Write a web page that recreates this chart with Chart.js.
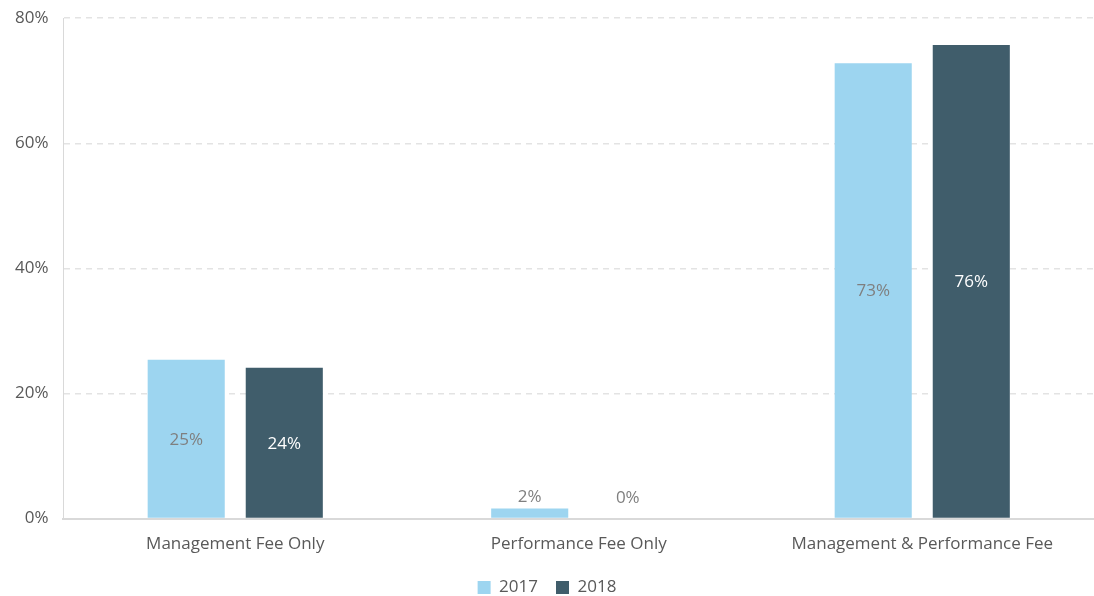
<!DOCTYPE html>
<html>
<head>
<meta charset="utf-8">
<script src="https://cdn.jsdelivr.net/npm/chart.js@4/dist/chart.umd.min.js"></script>
<style>
  html, body { margin: 0; padding: 0; background: #fff; overflow: hidden; }
  #wrap { width: 1094px; height: 613px; position: relative; top: -7px; }
</style>
</head>
<body>
<div id="wrap"><canvas id="feeChart"></canvas></div>
<script>
// data
const categories = ['Management Fee Only', 'Performance Fee Only', 'Management & Performance Fee'];
const values2017 = [25.4, 1.6, 72.8];
const values2018 = [24.1, 0, 75.7];
const yTicks = [0, 20, 40, 60, 80];

const FONT = "'Open Sans', sans-serif";

// draw the % labels: inside the middle of tall bars, above small ones
const barLabels = {
    id: 'barLabels',
    afterDatasetsDraw(chart) {
        const ctx = chart.ctx;
        ctx.save();
        ctx.font = '17px ' + FONT;
        ctx.textAlign = 'center';
        ctx.textBaseline = 'middle';
        chart.data.datasets.forEach((ds, i) => {
            const meta = chart.getDatasetMeta(i);
            meta.data.forEach((bar, j) => {
                const v = ds.data[j];
                const txt = Math.round(v) + '%';
                if (v < 5) {
                    ctx.fillStyle = '#7f7f7f';
                    ctx.fillText(txt, bar.x, Math.min(bar.y - 11, bar.base - 20));
                } else {
                    ctx.fillStyle = ds.labelColor;
                    ctx.fillText(txt, bar.x, (bar.y + bar.base) / 2 + 1);
                }
            });
        });
        ctx.restore();
    }
};

new Chart(document.getElementById('feeChart'), {
    type: 'bar',
    data: {
        labels: categories,
        datasets: [
            {
                label: '2017',
                data: values2017,
                backgroundColor: '#9dd5f0',
                labelColor: '#7f7f7f',
                categoryPercentage: 0.571,
                barPercentage: 0.786
            },
            {
                label: '2018',
                data: values2018,
                backgroundColor: '#405d6b',
                labelColor: '#ffffff',
                categoryPercentage: 0.571,
                barPercentage: 0.786
            }
        ]
    },
    options: {
        responsive: true,
        maintainAspectRatio: false,
        animation: false,
        layout: { padding: { left: 0, right: 0, top: 0, bottom: 0 } },
        plugins: {
            tooltip: { enabled: false },
            legend: {
                position: 'bottom',
                labels: {
                    font: { family: FONT, size: 17 },
                    color: '#595959',
                    boxWidth: 13,
                    boxHeight: 13,
                    padding: 18
                }
            }
        },
        scales: {
            x: {
                grid: { display: false },
                border: { color: '#d9d9d9', width: 2 },
                ticks: { font: { family: FONT, size: 17 }, color: '#595959', padding: 7 }
            },
            y: {
                min: 0,
                max: 80,
                afterBuildTicks: (axis) => { axis.ticks = yTicks.map(v => ({ value: v })); },
                grid: { color: '#e3e3e3', lineWidth: 1.5, drawTicks: false },
                border: { color: '#d9d9d9', dash: [6, 5], display: true },
                ticks: {
                    font: { family: FONT, size: 17 },
                    color: '#595959',
                    padding: 15,
                    callback: v => v + '%'
                }
            }
        }
    },
    plugins: [barLabels]
});
</script>
</body>
</html>
